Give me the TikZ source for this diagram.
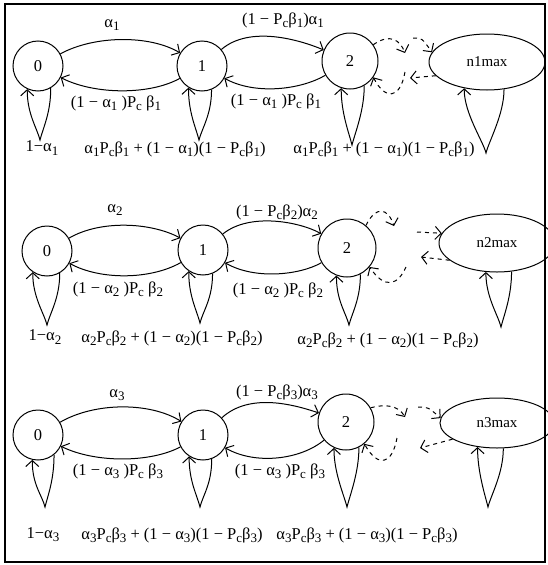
\documentclass[tikz,border=0pt]{standalone}
\usepackage{fontspec}
\setmainfont{Liberation Serif}
\usetikzlibrary{arrows.meta,shapes.geometric}
\newcommand\lw[1]{\raisebox{-3.2pt}{\fontsize{13}{13}\selectfont #1}}
\begin{document}
\begin{tikzpicture}[x=1pt,y=-1pt,
  every node/.style={font=\fontsize{16.5}{18}\selectfont},
  st/.style={draw, circle, minimum size=50pt, inner sep=0pt, line width=1pt},
  st2/.style={st, minimum size=56pt},
  big/.style={draw, ellipse, inner sep=0pt, line width=1pt, font=\fontsize{15}{17}\selectfont},
  lbl/.style={inner sep=0pt},
  arc/.style={line width=1pt, -{Straight Barb[length=6pt,width=13pt]}},
  dsh/.style={arc, dash pattern=on 4pt off 4pt},
]
\useasboundingbox (0,0) rectangle (547,565);
\draw[line width=1.8pt] (5,4) rectangle (545,562);

% ---------------- Row 1 ----------------
\node[st] (a0) at (38,66) {0};
\node[st] (a1) at (202,66) {1};
\node[st2] (a2) at (350,61) {2};
\node[big, minimum width=116pt, minimum height=56pt] (aE) at (487,62) {n1max};
\draw[arc] (a0) .. controls (95,35) and (150,35) .. (a1);
\draw[arc] (a1) .. controls (150,95) and (95,95) .. (a0);
\draw[arc] (a1) .. controls (250,25) and (300,40) .. (a2);
\draw[arc] (a2) .. controls (300,90) and (255,95) .. (a1);
\coordinate (a0t) at (40,140);
\coordinate (a1t) at (199,140);
\coordinate (a2t) at (352,145);
\coordinate (aEt) at (486,153);
\draw[arc] (a0.300) .. controls +(0,25) and +(3,-12) .. (a0t) .. controls +(-3,-12) and +(0,25) .. (a0.245);
\draw[arc] (a1.292) .. controls +(0,25) and +(3,-12) .. (a1t) .. controls +(-3,-12) and +(0,25) .. (a1.238);
\draw[arc] (a2.300) .. controls +(0,25) and +(3,-12) .. (a2t) .. controls +(-3,-12) and +(0,25) .. (a2.252);
\draw[arc] (aE.302) .. controls +(0,25) and +(3,-12) .. (aEt) .. controls +(-3,-12) and +(0,25) .. (aE.229);
\coordinate (a1A) at (405,53);
\coordinate (a1B) at (413,38);
\coordinate (a1C) at (410,78);
\coordinate (a1D) at (405,72);
\draw[dsh] (a2.35) .. controls (390,33) and (400,40) .. (a1A);
\draw[dsh] (a1B) .. controls (422,38) .. (aE.170);
\draw[dsh] (aE.195) -- (a1C);
\draw[dsh] (a1D) .. controls (400,100) and (385,100) .. (a2.-35);
\node[lbl] at (112,25) {α\lw{1}};
\node[lbl] at (283,20) {(1 − P\lw{c}β\lw{1})α\lw{1}};
\node[lbl] at (116,103) {(1 − α\lw{1} )P\lw{c} β\lw{1}};
\node[lbl] at (276,101) {(1 − α\lw{1} )P\lw{c} β\lw{1}};
\node[lbl] at (42,148) {1−α\lw{1}};
\node[lbl] at (175,149) {α\lw{1}P\lw{c}β\lw{1} + (1 − α\lw{1})(1 − P\lw{c}β\lw{1})};
\node[lbl] at (384,149) {α\lw{1}P\lw{c}β\lw{1} + (1 − α\lw{1})(1 − P\lw{c}β\lw{1})};

% ---------------- Row 2 ----------------
\node[st] (b0) at (47,251) {0};
\node[st] (b1) at (203,250) {1};
\node[st, minimum size=58pt] (b2) at (347,248) {2};
\node[big, minimum width=116pt, minimum height=58pt] (bE) at (497,243) {n2max};
\draw[arc] (b0) .. controls (100,220) and (150,222) .. (b1);
\draw[arc] (b1) .. controls (150,280) and (100,280) .. (b0);
\draw[arc] (b1) .. controls (250,212) and (300,222) .. (b2);
\draw[arc] (b2) .. controls (300,275) and (255,280) .. (b1);
\coordinate (b0t) at (47,325);
\coordinate (b1t) at (200,323);
\coordinate (b2t) at (349,325);
\coordinate (bEt) at (501,327);
\draw[arc] (b0.300) .. controls +(0,25) and +(3,-12) .. (b0t) .. controls +(-3,-12) and +(0,25) .. (b0.236);
\draw[arc] (b1.292) .. controls +(0,25) and +(3,-12) .. (b1t) .. controls +(-3,-12) and +(0,25) .. (b1.236);
\draw[arc] (b2.297) .. controls +(0,25) and +(3,-12) .. (b2t) .. controls +(-3,-12) and +(0,25) .. (b2.249);
\draw[arc] (bE.297) .. controls +(0,25) and +(3,-12) .. (bEt) .. controls +(-3,-12) and +(0,25) .. (bE.249);
\coordinate (b1A) at (394,226);
\coordinate (b1B) at (417,232);
\coordinate (b1C) at (421,257);
\coordinate (b1D) at (406,267);
\draw[dsh] (b2.50) .. controls (376,205) and (388,208) .. (b1A);
\draw[dsh] (b1B) -- (bE.170);
\draw[dsh] (bE.200) -- (b1C);
\draw[dsh] (b1D) .. controls (398,285) and (385,290) .. (b2.-40);
\node[lbl] at (115,210) {α\lw{2}};
\node[lbl] at (277,212) {(1 − P\lw{c}β\lw{2})α\lw{2}};
\node[lbl] at (118,289) {(1 − α\lw{2} )P\lw{c} β\lw{2}};
\node[lbl] at (278,290) {(1 − α\lw{2} )P\lw{c} β\lw{2}};
\node[lbl] at (45,337) {1−α\lw{2}};
\node[lbl] at (172,338) {α\lw{2}P\lw{c}β\lw{2} + (1 − α\lw{2})(1 − P\lw{c}β\lw{2})};
\node[lbl] at (388,340) {α\lw{2}P\lw{c}β\lw{2} + (1 − α\lw{2})(1 − P\lw{c}β\lw{2})};

% ---------------- Row 3 ----------------
\node[st] (c0) at (38,435) {0};
\node[st] (c1) at (203,435) {1};
\node[st2] (c2) at (346,422) {2};
\node[big, minimum width=114pt, minimum height=50pt] (cE) at (497,423) {n3max};
\draw[arc] (c0) .. controls (95,402) and (150,402) .. (c1);
\draw[arc] (c1) .. controls (150,463) and (95,463) .. (c0);
\draw[arc] (c1) .. controls (250,392) and (295,405) .. (c2);
\draw[arc] (c2) .. controls (300,460) and (255,465) .. (c1);
\coordinate (c0t) at (45,507);
\coordinate (c1t) at (200,507);
\coordinate (c2t) at (347,507);
\coordinate (cEt) at (488,507);
\draw[arc] (c0.309) .. controls +(0,25) and +(3,-12) .. (c0t) .. controls +(-3,-12) and +(0,25) .. (c0.257);
\draw[arc] (c1.290) .. controls +(0,25) and +(3,-12) .. (c1t) .. controls +(-3,-12) and +(0,25) .. (c1.237);
\draw[arc] (c2.297) .. controls +(0,25) and +(3,-12) .. (c2t) .. controls +(-3,-12) and +(0,25) .. (c2.245);
\draw[arc] (cE.284) .. controls +(0,25) and +(3,-12) .. (cEt) .. controls +(-3,-12) and +(0,25) .. (cE.231);
\coordinate (c1A) at (405,417);
\coordinate (c1B) at (418,407);
\coordinate (c1C) at (420,448);
\coordinate (c1D) at (397,438);
\draw[dsh] (c2.30) .. controls (385,404) and (398,405) .. (c1A);
\draw[dsh] (c1B) .. controls (428,407) .. (cE.175);
\draw[dsh] (cE.200) -- (c1C);
\draw[dsh] (c1D) .. controls (392,465) and (378,468) .. (c2.-50);
\node[lbl] at (117,395) {α\lw{3}};
\node[lbl] at (277,392) {(1 − P\lw{c}β\lw{3})α\lw{3}};
\node[lbl] at (118,471) {(1 − α\lw{3} )P\lw{c} β\lw{3}};
\node[lbl] at (280,471) {(1 − α\lw{3} )P\lw{c} β\lw{3}};
\node[lbl] at (43,535) {1−α\lw{3}};
\node[lbl] at (172,535) {α\lw{3}P\lw{c}β\lw{3} + (1 − α\lw{3})(1 − P\lw{c}β\lw{3})};
\node[lbl] at (367,535) {α\lw{3}P\lw{c}β\lw{3} + (1 − α\lw{3})(1 − P\lw{c}β\lw{3})};
\end{tikzpicture}
\end{document}
